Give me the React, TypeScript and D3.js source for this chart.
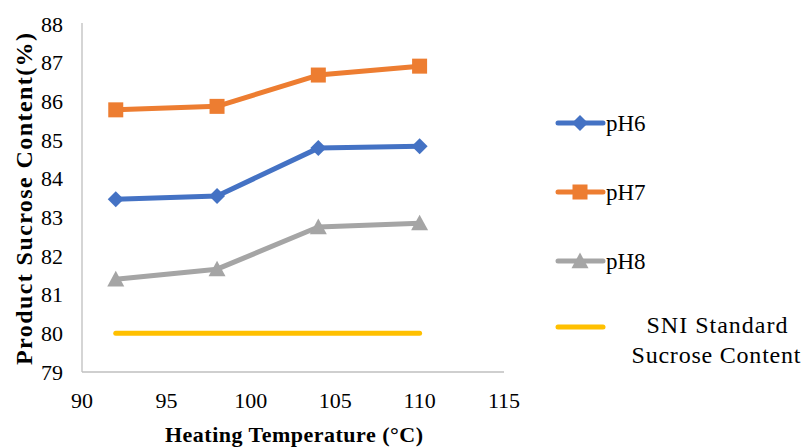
import React from "react";
import * as d3 from "d3";

const temps = [92, 98, 104, 110];
const pH6 = [83.47, 83.55, 84.79, 84.84];
const pH7 = [85.78, 85.87, 86.68, 86.91];
const pH8 = [81.4, 81.66, 82.75, 82.85];
const sni = [80, 80, 80, 80];
const xTicks = [90, 95, 100, 105, 110, 115];
const yTicks = [79, 80, 81, 82, 83, 84, 85, 86, 87, 88];

const series = [
  { name: "pH6", values: pH6, color: "#4472C4", marker: "diamond" },
  { name: "pH7", values: pH7, color: "#ED7D31", marker: "square" },
  { name: "pH8", values: pH8, color: "#A5A5A5", marker: "triangle" },
  { name: "SNI", values: sni, color: "#FFC000", marker: "none" },
];

const tf: React.CSSProperties = { fontFamily: "Liberation Serif" };

function Marker({ type, x, y, color }: { type: string; x: number; y: number; color: string }) {
  if (type === "diamond") {
    const s = 8;
    return <path d={`M${x},${y - s}L${x + s},${y}L${x},${y + s}L${x - s},${y}Z`} fill={color} />;
  }
  if (type === "square") {
    const s = 7.5;
    return <rect x={x - s} y={y - s} width={2 * s} height={2 * s} fill={color} />;
  }
  if (type === "triangle") {
    const s = 8.5;
    return <path d={`M${x},${y - s}L${x + s},${y + s * 0.85}L${x - s},${y + s * 0.85}Z`} fill={color} />;
  }
  return null;
}

export default function App() {
  const x = d3.scaleLinear().domain([90, 115]).range([82, 504]);
  const y = d3.scaleLinear().domain([79, 88]).range([372, 24]);
  const line = d3
    .line<number>()
    .x((_, i) => x(temps[i]))
    .y((d) => y(d));

  const legendY = [123, 192, 261, 327];

  return (
    <svg width={804} height={448} style={{ position: "absolute", left: 0, top: 0 }}>
      <rect width={804} height={448} fill="#fff" />
      <line x1={x(90)} x2={x(90)} y1={y(88) - 1} y2={y(79)} stroke="#BFBFBF" strokeWidth={1.3} />
      <line x1={x(90)} x2={x(115)} y1={y(79)} y2={y(79)} stroke="#BFBFBF" strokeWidth={1.3} />
      {yTicks.map((t) => (
        <text key={t} x={63} y={y(t)} dy="0.35em" textAnchor="end" style={tf} fontSize={22} fill="#000">
          {t}
        </text>
      ))}
      {xTicks.map((t) => (
        <text key={t} x={x(t)} y={408} textAnchor="middle" style={tf} fontSize={22} fill="#000">
          {t}
        </text>
      ))}
      <text
        transform={`translate(32,199) rotate(-90)`}
        textAnchor="middle"
        style={tf}
        fontSize={24}
        fontWeight="bold"
        fill="#000"
        textLength={332}
        lengthAdjust="spacing"
      >
        Product Sucrose Content(%)
      </text>
      <text x={294} y={442} textAnchor="middle" style={tf} fontSize={22} fontWeight="bold" fill="#000" textLength={258} lengthAdjust="spacing">
        Heating Temperature (°C)
      </text>
      {series.map((s) => (
        <g key={s.name}>
          <path d={line(s.values) || ""} fill="none" stroke={s.color} strokeWidth={5} strokeLinecap="round" strokeLinejoin="round" />
          {s.values.map((v, i) => (
            <Marker key={i} type={s.marker} x={x(temps[i])} y={y(v)} color={s.color} />
          ))}
        </g>
      ))}
      {series.map((s, i) => (
        <g key={s.name}>
          <line x1={558} x2={603} y1={legendY[i]} y2={legendY[i]} stroke={s.color} strokeWidth={5} strokeLinecap="round" />
          <Marker type={s.marker} x={580} y={legendY[i]} color={s.color} />
          {s.name !== "SNI" ? (
            <text x={606} y={legendY[i]} dy="0.35em" style={tf} fontSize={23} fill="#000">
              {s.name}
            </text>
          ) : (
            <text style={tf} fontSize={24} fill="#000" textAnchor="middle">
              <tspan x={717} y={333} textLength={141} lengthAdjust="spacing">SNI Standard</tspan>
              <tspan x={716} y={363} textLength={169} lengthAdjust="spacing">Sucrose Content</tspan>
            </text>
          )}
        </g>
      ))}
    </svg>
  );
}
